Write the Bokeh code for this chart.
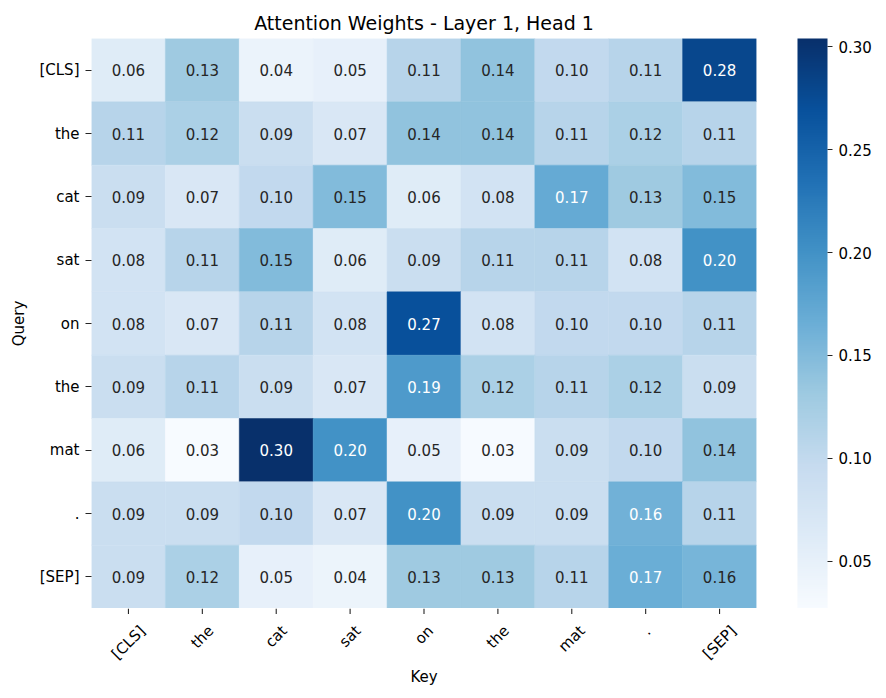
import math
from bokeh.plotting import figure
from bokeh.layouts import column
from bokeh.models import (Range1d, LinearColorMapper, ColorBar, FixedTicker,
                          PrintfTickFormatter, ColumnDataSource)
from bokeh.palettes import Blues256
from bokeh.core.properties import value
from bokeh.embed import file_html
from bokeh.resources import INLINE

tokens = ["[CLS]", "the", "cat", "sat", "on", "the", "mat", ".", "[SEP]"]

row_cls = [0.06, 0.13, 0.044, 0.05, 0.11, 0.14, 0.10, 0.11, 0.28]
row_the1 = [0.11, 0.12, 0.09, 0.07, 0.14, 0.14, 0.11, 0.12, 0.11]
row_cat = [0.09, 0.07, 0.10, 0.15, 0.06, 0.08, 0.17, 0.13, 0.15]
row_sat = [0.08, 0.11, 0.15, 0.06, 0.09, 0.11, 0.11, 0.08, 0.20]
row_on = [0.08, 0.07, 0.11, 0.08, 0.27, 0.08, 0.10, 0.10, 0.11]
row_the2 = [0.09, 0.11, 0.09, 0.07, 0.19, 0.12, 0.11, 0.12, 0.09]
row_mat = [0.06, 0.027, 0.304, 0.20, 0.05, 0.029, 0.09, 0.10, 0.14]
row_dot = [0.09, 0.09, 0.10, 0.07, 0.20, 0.09, 0.09, 0.162, 0.11]
row_sep = [0.09, 0.12, 0.05, 0.043, 0.13, 0.13, 0.11, 0.166, 0.157]

rows = [row_cls, row_the1, row_cat, row_sat, row_on, row_the2, row_mat, row_dot, row_sep]
cbar_ticks = [0.05, 0.10, 0.15, 0.20, 0.25, 0.30]

FONT = "DejaVu Sans"
FS = 15
FRAME_W, FRAME_H = 665, 570
LEFT, TOP, BOTTOM = 91, 38, 82
TICK_C = "#262626"
palette = list(reversed(Blues256))
vmin = min(min(r) for r in rows)
vmax = max(max(r) for r in rows)

# DejaVu Sans advance widths (em) for the label characters
EM = {'[': 0.390, ']': 0.390, 'C': 0.698, 'L': 0.557, 'S': 0.635, 'E': 0.632,
      'P': 0.603, 't': 0.392, 'h': 0.634, 'e': 0.615, 'c': 0.550, 'a': 0.613,
      's': 0.521, 'o': 0.612, 'n': 0.634, 'm': 0.974, '.': 0.318}


def text_w(s):
    return sum(EM.get(ch, 0.6) for ch in s) * FS


def color_of(v):
    t = (v - vmin) / (vmax - vmin)
    i = min(int(t * 256), 255)
    return palette[i]


def lum(hexc):
    rgb = [int(hexc[k:k + 2], 16) / 255 for k in (1, 3, 5)]
    lin = [c / 12.92 if c <= 0.03928 else ((c + 0.055) / 1.055) ** 2.4 for c in rgb]
    return 0.2126 * lin[0] + 0.7152 * lin[1] + 0.0722 * lin[2]


xs, ys, vals, cols, txt, tcol = [], [], [], [], [], []
for r, row in enumerate(rows):
    for c, v in enumerate(row):
        xs.append(c + 0.5)
        ys.append(r + 0.5)
        vals.append(v)
        col = color_of(v)
        cols.append(col)
        txt.append(f"{v:.2f}")
        tcol.append("#262626" if lum(col) > 0.408 else "#ffffff")

src = ColumnDataSource(dict(x=xs, y=ys, v=vals, c=cols, t=txt, tc=tcol))

n = len(tokens)
xr = Range1d(0, n)
p = figure(frame_width=FRAME_W, frame_height=FRAME_H,
           x_range=xr, y_range=Range1d(n, 0),
           output_backend="svg", toolbar_location=None,
           x_axis_location=None,
           min_border_left=LEFT, min_border_top=TOP, min_border_bottom=0,
           min_border_right=100,
           title="Attention Weights - Layer 1, Head 1")

p.title.align = "center"
p.title.text_font = FONT
p.title.text_font_size = "19px"
p.title.text_font_style = "normal"
p.title.text_color = "#000000"

p.rect(x="x", y="y", width=1, height=1, source=src, fill_color="c",
       line_color="c", line_width=0.5)
p.text(x="x", y="y", text="t", source=src, text_color="tc",
       text_align="center", text_baseline="middle",
       text_font=value(FONT), text_font_size=f"{FS}px")

p.xgrid.visible = False
p.ygrid.visible = False
p.outline_line_color = None

centers = [i + 0.5 for i in range(n)]
ax = p.yaxis[0]
ax.ticker = FixedTicker(ticks=centers)
ax.major_label_overrides = {c: tokens[i] for i, c in enumerate(centers)}
ax.axis_line_color = None
ax.major_tick_in = 0
ax.major_tick_out = 6
ax.major_tick_line_color = TICK_C
ax.minor_tick_line_color = None
ax.major_label_text_font = FONT
ax.major_label_text_font_size = f"{FS}px"
ax.major_label_text_color = "#000000"
ax.major_label_standoff = 6
ax.axis_label = "Query"
ax.axis_label_text_font = FONT
ax.axis_label_text_font_size = f"{FS}px"
ax.axis_label_text_font_style = "normal"
ax.axis_label_text_color = "#000000"
ax.axis_label_standoff = 8

mapper = LinearColorMapper(palette=palette, low=vmin, high=vmax)
cb = ColorBar(color_mapper=mapper, ticker=FixedTicker(ticks=cbar_ticks),
              formatter=PrintfTickFormatter(format="%.2f"),
              width=30, height=FRAME_H, padding=0, location=(41, 0),
              bar_line_color=None, major_tick_in=0, major_tick_out=5,
              major_tick_line_color=TICK_C, minor_tick_line_color=None,
              major_label_text_font=FONT, major_label_text_font_size=f"{FS}px",
              major_label_text_color="#000000", label_standoff=6,
              background_fill_color=None, border_line_color=None)
p.add_layout(cb, "right")

# x axis strip: shares the heatmap's x scale, y measured in pixels below it,
# so the rotated tick labels can be centred under their ticks
q = figure(frame_width=FRAME_W, frame_height=BOTTOM,
           x_range=xr, y_range=Range1d(BOTTOM, 0),
           output_backend="svg", toolbar_location=None,
           x_axis_location=None, y_axis_location=None,
           min_border_left=LEFT, min_border_top=0, min_border_bottom=0,
           min_border_right=0)
q.xgrid.visible = False
q.ygrid.visible = False
q.outline_line_color = None

k = math.cos(math.pi / 4)
tick_src = ColumnDataSource(dict(x=centers, y0=[0] * n, y1=[5.5] * n))
q.segment(x0="x", y0="y0", x1="x", y1="y1", source=tick_src,
          line_color=TICK_C, line_width=1.1)
lab_y = [14.5 + (text_w(s) + FS) * k / 2 for s in tokens]
lab_src = ColumnDataSource(dict(x=centers, y=lab_y, text=tokens))
q.text(x="x", y="y", text="text", source=lab_src, angle=math.pi / 4,
       text_align="center", text_baseline="middle",
       text_font=value(FONT), text_font_size=f"{FS}px", text_color="#000000")
q.text(x=[n / 2], y=[68.5], text=["Key"], text_align="center",
       text_baseline="middle", text_font=value(FONT),
       text_font_size=f"{FS}px", text_color="#000000")

layout = column(p, q, spacing=0)
open("out.html", "w").write(file_html(layout, INLINE))
